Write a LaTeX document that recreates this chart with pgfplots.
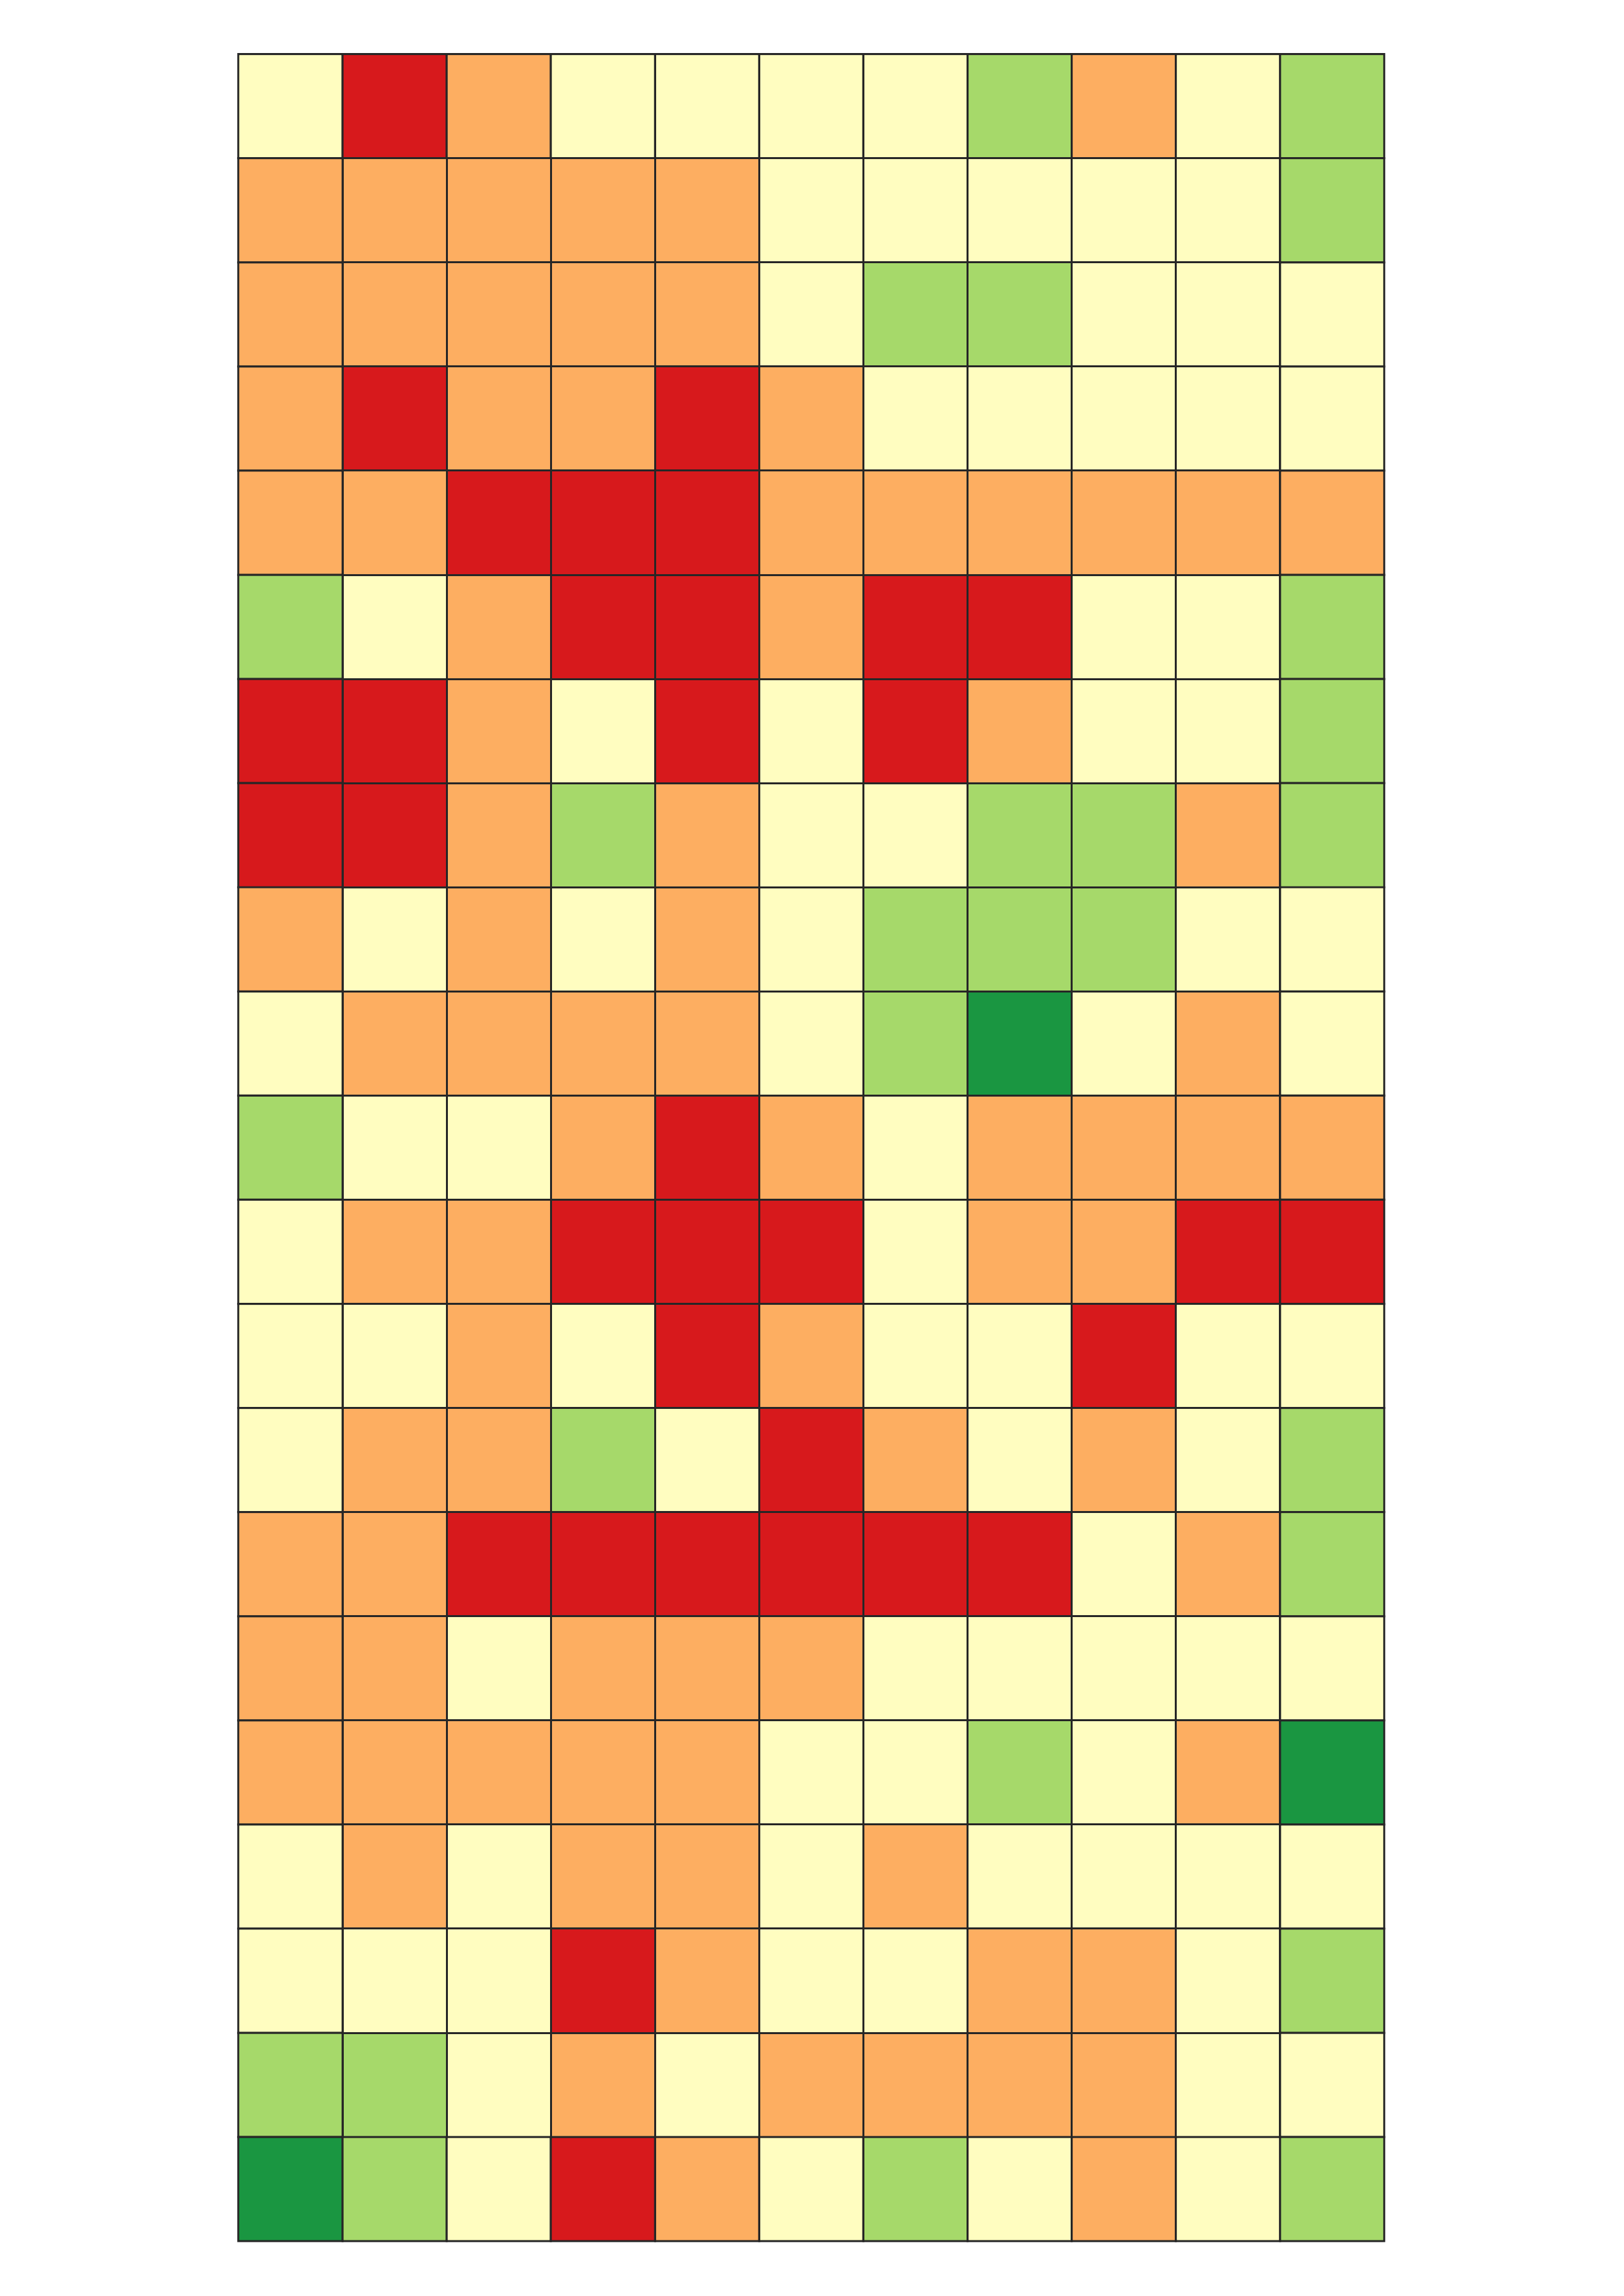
\documentclass[border=0pt]{standalone}
\usepackage{pgfplots}
\pgfplotsset{compat=1.18}
% cell classes: 0 red, 1 orange, 2 pale yellow, 3 light green, 4 dark green
\pgfplotsset{
  colormap={rdylgn5}{rgb255=(215,25,28) rgb255=(253,174,97) rgb255=(255,253,192) rgb255=(166,217,106) rgb255=(26,150,65)}
}
\begin{document}
\begin{tikzpicture}
\useasboundingbox (-3.082cm,-0.71cm) rectangle ++(21cm,29.7cm);
\begin{axis}[
  at={(0,0)}, anchor=south west,
  scale only axis, width=14.82cm, height=28.29cm,
  hide axis, clip=false,
  xmin=-0.5, xmax=10.5, ymin=-0.5, ymax=20.5,
  y dir=reverse,
  enlargelimits=false,
  colormap name=rdylgn5,
  colormap access=direct,
]
\addplot[matrix plot*, mesh/cols=11, mesh/ordering=x varies,
  point meta=explicit, draw=black!85, line width=0.72pt]
  coordinates {
(0,0)[2] (1,0)[0] (2,0)[1] (3,0)[2] (4,0)[2] (5,0)[2] (6,0)[2] (7,0)[3] (8,0)[1] (9,0)[2] (10,0)[3]
(0,1)[1] (1,1)[1] (2,1)[1] (3,1)[1] (4,1)[1] (5,1)[2] (6,1)[2] (7,1)[2] (8,1)[2] (9,1)[2] (10,1)[3]
(0,2)[1] (1,2)[1] (2,2)[1] (3,2)[1] (4,2)[1] (5,2)[2] (6,2)[3] (7,2)[3] (8,2)[2] (9,2)[2] (10,2)[2]
(0,3)[1] (1,3)[0] (2,3)[1] (3,3)[1] (4,3)[0] (5,3)[1] (6,3)[2] (7,3)[2] (8,3)[2] (9,3)[2] (10,3)[2]
(0,4)[1] (1,4)[1] (2,4)[0] (3,4)[0] (4,4)[0] (5,4)[1] (6,4)[1] (7,4)[1] (8,4)[1] (9,4)[1] (10,4)[1]
(0,5)[3] (1,5)[2] (2,5)[1] (3,5)[0] (4,5)[0] (5,5)[1] (6,5)[0] (7,5)[0] (8,5)[2] (9,5)[2] (10,5)[3]
(0,6)[0] (1,6)[0] (2,6)[1] (3,6)[2] (4,6)[0] (5,6)[2] (6,6)[0] (7,6)[1] (8,6)[2] (9,6)[2] (10,6)[3]
(0,7)[0] (1,7)[0] (2,7)[1] (3,7)[3] (4,7)[1] (5,7)[2] (6,7)[2] (7,7)[3] (8,7)[3] (9,7)[1] (10,7)[3]
(0,8)[1] (1,8)[2] (2,8)[1] (3,8)[2] (4,8)[1] (5,8)[2] (6,8)[3] (7,8)[3] (8,8)[3] (9,8)[2] (10,8)[2]
(0,9)[2] (1,9)[1] (2,9)[1] (3,9)[1] (4,9)[1] (5,9)[2] (6,9)[3] (7,9)[4] (8,9)[2] (9,9)[1] (10,9)[2]
(0,10)[3] (1,10)[2] (2,10)[2] (3,10)[1] (4,10)[0] (5,10)[1] (6,10)[2] (7,10)[1] (8,10)[1] (9,10)[1] (10,10)[1]
(0,11)[2] (1,11)[1] (2,11)[1] (3,11)[0] (4,11)[0] (5,11)[0] (6,11)[2] (7,11)[1] (8,11)[1] (9,11)[0] (10,11)[0]
(0,12)[2] (1,12)[2] (2,12)[1] (3,12)[2] (4,12)[0] (5,12)[1] (6,12)[2] (7,12)[2] (8,12)[0] (9,12)[2] (10,12)[2]
(0,13)[2] (1,13)[1] (2,13)[1] (3,13)[3] (4,13)[2] (5,13)[0] (6,13)[1] (7,13)[2] (8,13)[1] (9,13)[2] (10,13)[3]
(0,14)[1] (1,14)[1] (2,14)[0] (3,14)[0] (4,14)[0] (5,14)[0] (6,14)[0] (7,14)[0] (8,14)[2] (9,14)[1] (10,14)[3]
(0,15)[1] (1,15)[1] (2,15)[2] (3,15)[1] (4,15)[1] (5,15)[1] (6,15)[2] (7,15)[2] (8,15)[2] (9,15)[2] (10,15)[2]
(0,16)[1] (1,16)[1] (2,16)[1] (3,16)[1] (4,16)[1] (5,16)[2] (6,16)[2] (7,16)[3] (8,16)[2] (9,16)[1] (10,16)[4]
(0,17)[2] (1,17)[1] (2,17)[2] (3,17)[1] (4,17)[1] (5,17)[2] (6,17)[1] (7,17)[2] (8,17)[2] (9,17)[2] (10,17)[2]
(0,18)[2] (1,18)[2] (2,18)[2] (3,18)[0] (4,18)[1] (5,18)[2] (6,18)[2] (7,18)[1] (8,18)[1] (9,18)[2] (10,18)[3]
(0,19)[3] (1,19)[3] (2,19)[2] (3,19)[1] (4,19)[2] (5,19)[1] (6,19)[1] (7,19)[1] (8,19)[1] (9,19)[2] (10,19)[2]
(0,20)[4] (1,20)[3] (2,20)[2] (3,20)[0] (4,20)[1] (5,20)[2] (6,20)[3] (7,20)[2] (8,20)[1] (9,20)[2] (10,20)[3]
};
\end{axis}
\end{tikzpicture}
\end{document}
